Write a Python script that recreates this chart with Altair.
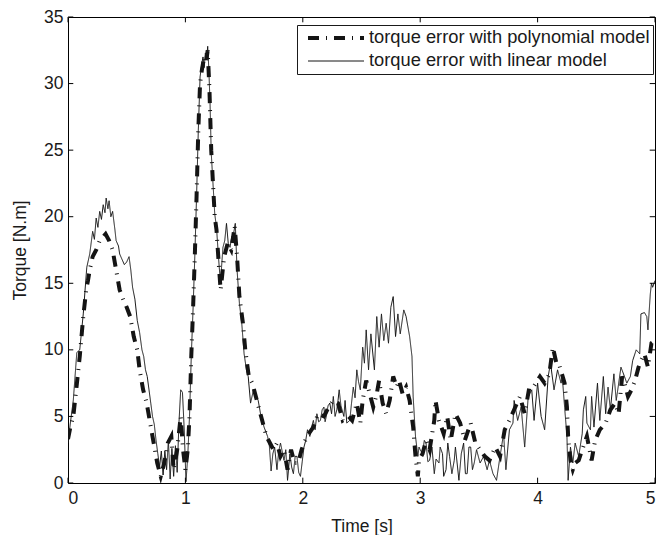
import altair as alt
import pandas as pd

# ---- data ----
poly_label = "torque error with polynomial model"
lin_label = "torque error with linear model"

lin_t = [0.00, 0.02, 0.045, 0.075, 0.10, 0.13, 0.16, 0.185, 0.21, 0.225, 0.24, 0.255, 0.27, 0.285,
         0.30, 0.315, 0.325, 0.34, 0.35, 0.365, 0.38, 0.40, 0.41, 0.43, 0.44, 0.46, 0.48, 0.50,
         0.52, 0.535, 0.55, 0.57, 0.59, 0.61, 0.63, 0.645, 0.66, 0.675, 0.69, 0.705, 0.72, 0.735,
         0.75, 0.765, 0.78, 0.795, 0.81, 0.825, 0.84, 0.855, 0.87, 0.885, 0.90, 0.915, 0.93,
         0.945, 0.96, 0.975, 0.99, 1.005, 1.02, 1.035, 1.05, 1.065, 1.08, 1.095, 1.11, 1.125,
         1.14, 1.15, 1.16, 1.17, 1.18, 1.19, 1.20, 1.21, 1.22, 1.235, 1.25, 1.265, 1.28, 1.29,
         1.30, 1.31, 1.32, 1.335, 1.35, 1.365, 1.38, 1.395, 1.41, 1.425, 1.44, 1.46, 1.48, 1.50,
         1.52, 1.535, 1.555, 1.58, 1.60, 1.62, 1.64, 1.67, 1.70, 1.715, 1.73, 1.745, 1.76, 1.78,
         1.795, 1.81, 1.84, 1.855, 1.87, 1.89, 1.905, 1.92, 1.935, 1.95, 1.965, 1.98, 1.995,
         2.01, 2.025, 2.04, 2.06, 2.075, 2.09, 2.105, 2.12, 2.135, 2.15, 2.165, 2.18, 2.19, 2.20,
         2.215, 2.23, 2.245, 2.26, 2.275, 2.29, 2.30, 2.31, 2.325, 2.35, 2.36, 2.375, 2.40,
         2.415, 2.43, 2.445, 2.46, 2.475, 2.49, 2.51, 2.525, 2.54, 2.56, 2.58, 2.61, 2.63, 2.65,
         2.67, 2.69, 2.71, 2.73, 2.75, 2.77, 2.79, 2.81, 2.83, 2.86, 2.88, 2.91, 2.93, 2.94,
         2.96, 2.98, 2.99, 3.00, 3.02, 3.035, 3.05, 3.065, 3.08, 3.10, 3.12, 3.135, 3.16, 3.17,
         3.19, 3.20, 3.22, 3.235, 3.25, 3.27, 3.29, 3.30, 3.33, 3.35, 3.37, 3.385, 3.40, 3.415,
         3.43, 3.445, 3.46, 3.48, 3.51, 3.54, 3.57, 3.59, 3.62, 3.65, 3.68, 3.71, 3.73, 3.76,
         3.79, 3.80, 3.83, 3.86, 3.89, 3.92, 3.95, 3.97, 4.00, 4.03, 4.06, 4.09, 4.11, 4.14,
         4.17, 4.20, 4.21, 4.23, 4.25, 4.26, 4.28, 4.30, 4.32, 4.35, 4.38, 4.39, 4.41, 4.42,
         4.45, 4.46, 4.48, 4.51, 4.53, 4.56, 4.58, 4.60, 4.62, 4.65, 4.67, 4.71, 4.74, 4.76,
         4.79, 4.81, 4.84, 4.87, 4.88, 4.91, 4.93, 4.94, 4.96, 4.97, 4.98, 5.00]
lin_v = [3.0, 4.5, 6.2, 9.8, 10.0, 12.7, 16.2, 17.2, 18.9, 18.3, 19.9, 19.2, 20.4, 19.8,
         20.9, 20.3, 21.4, 20.6, 21.2, 20.0, 20.4, 19.0, 18.2, 17.8, 17.2, 16.8, 16.4, 16.6,
         17.0, 16.0, 14.7, 13.8, 12.2, 11.3, 10.0, 9.5, 8.5, 8.0, 7.0, 6.0, 5.0, 4.4,
         3.2, 2.2, 1.2, 2.4, 0.6, 2.4, 1.0, 3.2, 0.3, 2.6, 0.5, 2.8, 0.8,
         4.5, 7.0, 6.8, 4.0, 0.1, 2.0, 5.0, 9.5, 13.0, 17.0, 21.5, 26.5, 30.5,
         31.5, 32.0, 31.2, 32.3, 31.8, 32.8, 31.0, 28.5, 24.8, 22.5, 20.2, 19.2, 17.2, 16.0,
         15.0, 16.5, 17.7, 18.2, 19.5, 18.0, 17.7, 18.5, 18.7, 19.5, 16.0, 13.5, 12.0, 9.7,
         8.5, 8.0, 6.0, 7.0, 6.5, 6.2, 5.2, 4.2, 3.5, 2.8, 0.9, 2.2, 2.7, 1.0,
         2.4, 3.0, 1.7, 2.5, 0.2, 2.2, 1.2, 0.7, 2.0, 2.0, 0.8, 0.5, 1.6,
         2.7, 3.2, 4.0, 3.5, 4.2, 4.7, 4.0, 5.2, 4.6, 4.7, 5.5, 5.7, 4.6, 5.0,
         5.8, 6.0, 5.2, 6.5, 5.0, 5.5, 6.2, 7.0, 5.8, 5.0, 6.2, 4.5, 4.7,
         6.0, 7.2, 6.4, 8.5, 7.6, 7.0, 10.2, 9.0, 11.5, 8.5, 11.2, 8.5, 12.5, 10.2,
         12.7, 10.7, 12.0, 10.5, 13.2, 14.0, 11.0, 12.7, 11.2, 13.0, 12.5, 11.0, 9.5, 6.5,
         3.5, 2.0, 2.7, 2.5, 2.2, 3.2, 3.0, 1.6, 1.7, 2.7, 0.7, 1.8, 1.5, 2.7,
         2.2, 0.5, 1.0, 3.0, 2.0, 0.7, 1.7, 2.7, 0.2, 2.2, 3.0, 0.7, 0.7, 2.7,
         2.7, 1.0, 1.5, 2.5, 1.5, 2.0, 1.0, 1.7, 0.7, 0.2, 2.0, 3.7, 1.0, 4.0,
         4.5, 6.2, 4.7, 5.7, 2.7, 6.5, 7.0, 4.7, 7.5, 5.0, 4.0, 8.0, 9.0, 7.0,
         8.5, 7.5, 8.0, 5.7, 3.5, 0.2, 2.7, 1.5, 3.0, 2.0, 3.7, 5.5, 6.5, 4.5,
         4.0, 6.5, 4.2, 7.5, 4.7, 8.0, 5.2, 7.2, 5.5, 8.2, 6.2, 8.7, 8.0, 7.5,
         8.0, 9.2, 10.0, 9.7, 12.7, 12.8, 12.5, 11.5, 14.2, 15.0, 14.7, 15.2]

poly_t = [0.00, 0.02, 0.045, 0.07, 0.10, 0.13, 0.155, 0.17, 0.185, 0.21, 0.24, 0.27, 0.30, 0.32,
          0.35, 0.38, 0.41, 0.44, 0.47, 0.50, 0.53, 0.56, 0.59, 0.61, 0.64, 0.67, 0.70, 0.73,
          0.76, 0.79, 0.82, 0.85, 0.88, 0.90, 0.93, 0.96, 0.98, 1.00, 1.02, 1.035, 1.05, 1.065,
          1.08, 1.095, 1.11, 1.125, 1.14, 1.16, 1.175, 1.19, 1.205, 1.22, 1.235, 1.25, 1.265,
          1.28, 1.30, 1.33, 1.36, 1.39, 1.42, 1.44, 1.46, 1.49, 1.51, 1.54, 1.57, 1.60, 1.63,
          1.66, 1.69, 1.72, 1.75, 1.78, 1.81, 1.84, 1.87, 1.90, 1.93, 1.96, 1.99, 2.01, 2.05,
          2.09, 2.13, 2.18, 2.22, 2.26, 2.30, 2.34, 2.39, 2.42, 2.46, 2.49, 2.51, 2.54, 2.57,
          2.60, 2.63, 2.65, 2.68, 2.71, 2.74, 2.77, 2.80, 2.82, 2.85, 2.88, 2.91, 2.94, 2.96,
          2.98, 2.99, 3.02, 3.05, 3.08, 3.12, 3.13, 3.16, 3.20, 3.23, 3.26, 3.30, 3.34, 3.38,
          3.43, 3.47, 3.51, 3.55, 3.59, 3.64, 3.68, 3.72, 3.76, 3.80, 3.85, 3.89, 3.93, 3.97,
          4.02, 4.06, 4.10, 4.13, 4.16, 4.18, 4.23, 4.25, 4.26, 4.28, 4.30, 4.32, 4.35, 4.38,
          4.42, 4.46, 4.49, 4.53, 4.58, 4.62, 4.66, 4.69, 4.72, 4.74, 4.77, 4.80, 4.83, 4.86,
          4.88, 4.91, 4.94, 4.97, 5.00]
poly_v = [3.3, 4.2, 5.0, 7.0, 9.5, 12.5, 14.5, 15.2, 16.0, 17.0, 17.5, 18.2, 18.5, 18.7,
          18.2, 17.5, 16.0, 14.5, 13.8, 13.2, 12.5, 11.0, 10.0, 8.5, 7.0, 6.0, 4.5, 3.0,
          1.5, 0.5, 1.5, 3.0, 3.5, 1.0, 2.5, 5.0, 2.5, 1.0, 2.5, 5.0, 9.5, 13.0,
          17.0, 21.5, 26.5, 30.0, 31.0, 32.0, 31.5, 32.5, 29.5, 25.0, 22.5, 20.0, 19.0,
          17.0, 14.5, 17.0, 18.0, 17.5, 19.3, 17.0, 14.0, 12.0, 10.0, 8.0, 7.5, 6.5, 5.5,
          4.5, 3.5, 3.0, 2.5, 3.0, 2.0, 2.5, 1.0, 2.5, 1.5, 1.5, 2.5, 3.0, 3.7,
          4.2, 5.2, 5.0, 5.7, 6.2, 6.0, 4.7, 5.0, 4.7, 6.0, 4.5, 6.2, 7.7, 6.7,
          5.7, 6.7, 7.7, 6.0, 5.2, 6.2, 8.0, 7.2, 7.7, 6.7, 7.2, 6.2, 4.2, 2.0,
          0.5, 1.7, 2.2, 3.2, 2.5, 4.7, 6.2, 4.7, 3.7, 5.0, 3.2, 5.2, 4.5, 3.2,
          4.5, 3.0, 2.5, 2.0, 1.7, 2.7, 2.0, 4.0, 4.7, 5.5, 6.5, 5.2, 7.2, 7.3,
          8.0, 7.5, 8.2, 10.2, 9.0, 9.0, 7.5, 5.7, 3.5, 1.7, 1.0, 1.5, 1.7, 2.5,
          3.5, 1.7, 3.2, 4.0, 4.5, 5.5, 6.0, 5.2, 8.0, 7.5, 6.5, 7.0, 7.7, 8.7,
          9.2, 9.7, 8.7, 10.5, 10.7]

x_ticks = [0, 1, 2, 3, 4, 5]
y_ticks = [0, 5, 10, 15, 20, 25, 30, 35]

# ---- build tables ----
df = pd.concat([
    pd.DataFrame({"t": poly_t, "v": poly_v, "series": poly_label, "order": range(len(poly_t))}),
    pd.DataFrame({"t": lin_t, "v": lin_v, "series": lin_label, "order": range(len(lin_t))}),
])

FONT = "Liberation Sans"
W, H = 587, 466
xs = alt.Scale(domain=[0, 5], nice=False, zero=False)
ys = alt.Scale(domain=[0, 35], nice=False, zero=False)

series_dom = [poly_label, lin_label]
leg = alt.Legend(title=None, orient="none", legendX=229, legendY=8)

lines = alt.Chart(df).mark_line(clip=True, strokeCap="butt", strokeJoin="miter").encode(
    x=alt.X("t:Q", scale=xs, title="Time [s]",
            axis=alt.Axis(values=x_ticks, tickSize=0, labelPadding=6, titlePadding=11,
                          domain=False, grid=False, format="d")),
    y=alt.Y("v:Q", scale=ys, title="Torque [N.m]",
            axis=alt.Axis(values=y_ticks, tickSize=0, labelPadding=5, titlePadding=14,
                          domain=False, grid=False, format="d")),
    color=alt.Color("series:N", scale=alt.Scale(domain=series_dom, range=["#141414", "#141414"]),
                    legend=leg),
    strokeDash=alt.StrokeDash("series:N", scale=alt.Scale(domain=series_dom, range=[[11, 7, 1, 7], [1, 0]]),
                              legend=leg),
    strokeWidth=alt.StrokeWidth("series:N", scale=alt.Scale(domain=series_dom, range=[4.0, 1.0]),
                                legend=leg),
    order="order:Q",
)

tick_len_y = 0.4
tick_len_x = 0.045
xt = pd.DataFrame({"x": x_ticks, "y0": 0.0, "y1": tick_len_y, "y2": 35.0, "y3": 35.0 - tick_len_y})
yt = pd.DataFrame({"y": y_ticks, "x0": 0.0, "x1": tick_len_x, "x2": 5.0, "x3": 5.0 - tick_len_x})

tb = alt.Chart(xt).mark_rule(color="black", strokeWidth=1).encode(
    x=alt.X("x:Q", scale=xs), y=alt.Y("y0:Q", scale=ys), y2="y1:Q")
tt = alt.Chart(xt).mark_rule(color="black", strokeWidth=1).encode(
    x=alt.X("x:Q", scale=xs), y=alt.Y("y2:Q", scale=ys), y2="y3:Q")
tl = alt.Chart(yt).mark_rule(color="black", strokeWidth=1).encode(
    y=alt.Y("y:Q", scale=ys), x=alt.X("x0:Q", scale=xs), x2="x1:Q")
tr = alt.Chart(yt).mark_rule(color="black", strokeWidth=1).encode(
    y=alt.Y("y:Q", scale=ys), x=alt.X("x2:Q", scale=xs), x2="x3:Q")

chart = alt.layer(lines, tb, tt, tl, tr).properties(
    width=W, height=H,
    autosize=alt.AutoSizeParams(type="none"),
    padding={"left": 60, "top": 9, "right": 1, "bottom": 52},
).configure_view(
    stroke="black", strokeWidth=1
).configure_axis(
    labelFont=FONT, titleFont=FONT, labelFontSize=17.5, titleFontSize=17.5,
    labelColor="#1a1a1a", titleColor="#1a1a1a", titleFontWeight="normal",
).configure_legend(
    labelFont=FONT, labelFontSize=18.3, labelColor="#1a1a1a", labelLimit=0,
    strokeColor="#1a1a1a", fillColor="white", padding=3, cornerRadius=0,
    symbolType="stroke", symbolSize=3136, clipHeight=20, labelOffset=3, rowPadding=3,
    symbolStrokeColor="#141414", symbolOffset=6,
)

chart.save("out.html", embed_options={"renderer": "svg", "actions": False})
